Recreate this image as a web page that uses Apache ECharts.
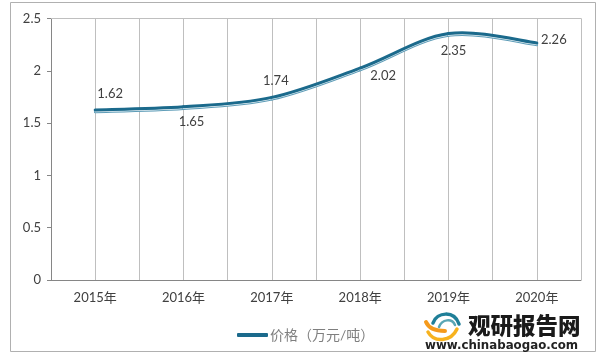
<!DOCTYPE html>
<html>
<head>
<meta charset="utf-8">
<script src="https://cdn.jsdelivr.net/npm/echarts@6/dist/echarts.min.js"></script>
<style>
  html, body { margin: 0; padding: 0; background: #fff; }
  #chart { width: 599px; height: 355px; }
</style>
</head>
<body>
<div id="chart"></div>
<script>
const years = ["2015年", "2016年", "2017年", "2018年", "2019年", "2020年"];
const prices = [1.62, 1.65, 1.74, 2.02, 2.35, 2.26];
const yTicks = [0, 0.5, 1, 1.5, 2, 2.5];
// where each value label sits relative to its point
const labelOffsets = [[15, -17], [8, 14], [4, -17], [23, 7], [5, 17], [17, -4]];

const fontFamily = "Lato, 'Noto Sans CJK SC', sans-serif";
const lineColor = "#1b6a8c";

const swoosh = (x1, y1, cpx1, cpy1, cpx2, cpy2, x2, y2, stroke, lineWidth) => ({
  type: "bezierCurve",
  silent: true,
  shape: { x1, y1, cpx1, cpy1, cpx2, cpy2, x2, y2 },
  style: { stroke, lineWidth, fill: "none", lineCap: "round" },
});

// Excel style smoothing: the tangent at a point follows its two neighbours,
// so the curve can peak just after 2019
const renderSegment = (params, api) => {
  const i = params.dataIndex;
  const pts = prices.map((v, k) => api.coord([k, v]));
  const p = pts[i];
  const [ox, oy] = labelOffsets[i];
  const children = [
    {
      type: "text",
      z2: 10,
      style: {
        text: String(prices[i]),
        x: p[0] + ox,
        y: p[1] + oy,
        align: "center",
        verticalAlign: "middle",
        font: "13px " + fontFamily,
        fill: "#404040",
      },
    },
  ];
  if (i < pts.length - 1) {
    const prev = pts[Math.max(i - 1, 0)];
    const next = pts[i + 1];
    const after = pts[Math.min(i + 2, pts.length - 1)];
    const shape = (dy) => ({
      x1: p[0],
      y1: p[1] + dy,
      cpx1: p[0] + (next[0] - prev[0]) / 6,
      cpy1: p[1] + (next[1] - prev[1]) / 6 + dy,
      cpx2: next[0] - (after[0] - p[0]) / 6,
      cpy2: next[1] - (after[1] - p[1]) / 6 + dy,
      x2: next[0],
      y2: next[1] + dy,
    });
    const stroke = (dy, color, width) => ({
      type: "bezierCurve",
      shape: shape(dy),
      style: { stroke: color, lineWidth: width, fill: "none", lineCap: "round" },
    });
    children.unshift(
      stroke(1.3, "#5f9db8", 2.6),
      stroke(1, "#e6f0f4", 1.2),
      stroke(-0.6, lineColor, 3)
    );
  }
  return { type: "group", children };
};

const chart = echarts.init(document.getElementById("chart"), null, { renderer: "canvas" });

chart.setOption({
  animation: false,
  backgroundColor: "#fff",
  textStyle: { fontFamily },
  grid: { left: 51, right: 18, top: 18.5, bottom: 75 },
  legend: {
    left: 232,
    top: 323,
    itemWidth: 31,
    itemHeight: 4,
    itemGap: 0,
    data: [{ name: "价格（万元/吨）", icon: "roundRect", itemStyle: { color: lineColor } }],
    textStyle: { color: "#7f7f7f", fontSize: 14, fontFamily, padding: [0, 0, 0, -3] },
  },
  xAxis: [
    {
      type: "category",
      data: years,
      axisLine: { lineStyle: { color: "#868686", width: 1 } },
      axisTick: { show: false },
      axisLabel: { color: "#404040", fontSize: 13, margin: 11 },
    },
    {
      // half-band grid lines, as in the original
      type: "value",
      position: "top",
      min: 0,
      max: 12,
      interval: 1,
      axisLine: { show: true, onZero: false, lineStyle: { color: "#bfbfbf" } },
      axisTick: { show: false },
      axisLabel: { show: false },
      splitLine: { show: true, lineStyle: { color: "#bfbfbf", width: 1 } },
    },
  ],
  yAxis: {
    type: "value",
    min: yTicks[0],
    max: yTicks[yTicks.length - 1],
    interval: 0.5,
    axisLine: { show: true, lineStyle: { color: "#868686" } },
    axisTick: { show: true, length: 4, lineStyle: { color: "#868686" } },
    axisLabel: { color: "#404040", fontSize: 13, margin: 10 },
    splitLine: { show: false },
  },
  series: [
    {
      name: "价格（万元/吨）",
      type: "custom",
      coordinateSystem: "cartesian2d",
      renderItem: renderSegment,
      encode: { x: 0, y: 1 },
      data: prices.map((v, i) => [i, v]),
      clip: false,
      itemStyle: { color: lineColor },
      z: 5,
    },
  ],
  graphic: [
    {
      type: "rect",
      silent: true,
      z: -1,
      shape: { x: 10.5, y: 2.5, width: 585, height: 349 },
      style: { fill: "#fff", stroke: "#b0b0b0", lineWidth: 1 },
    },
    // watermark logo
    swoosh(433, 323, 437, 312, 454, 310, 459, 324, "#1f7f98", 3.5),
    swoosh(439, 327, 442, 319, 452, 318, 455, 325, "#5aa6b4", 2.5),
    swoosh(426, 322, 429, 329, 437, 331, 445, 331, "#f59a1c", 4),
    swoosh(428, 332, 434, 343, 451, 342, 457, 329, "#f7b21e", 3.5),
    {
      type: "text",
      silent: true,
      left: 468,
      top: 314,
      style: {
        text: "观研报告网",
        font: "900 22.5px 'Noto Sans CJK SC', sans-serif",
        fill: "#1a1a1a",
      },
    },
    {
      type: "text",
      silent: true,
      left: 425,
      top: 340,
      style: {
        text: "www.chinabaogao.com",
        font: "bold 11.8px 'DejaVu Sans', sans-serif",
        fill: "#222",
      },
    },
  ],
});
</script>
</body>
</html>
